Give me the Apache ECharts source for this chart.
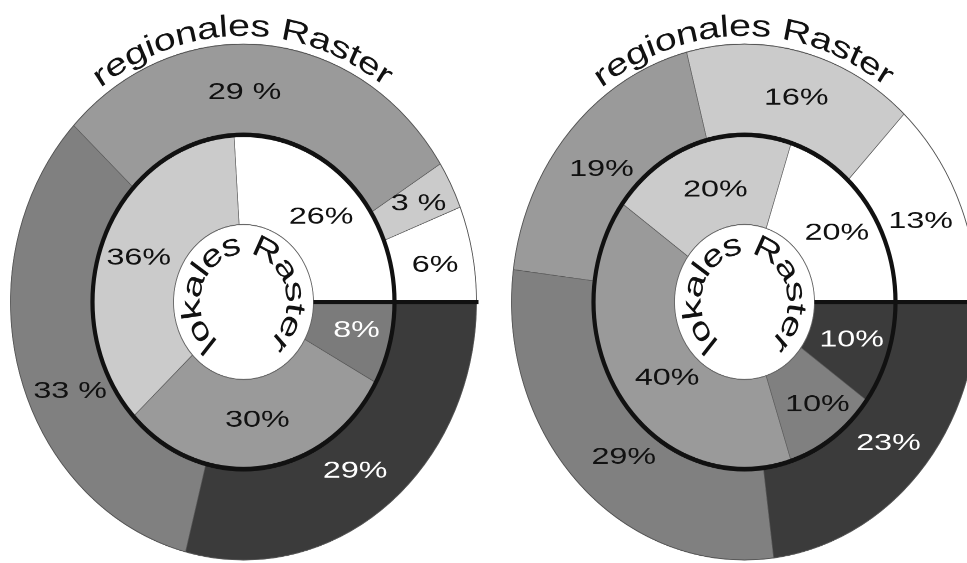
<!DOCTYPE html>
<html><head><meta charset="utf-8">
<script src="https://cdn.jsdelivr.net/npm/echarts@6/dist/echarts.min.js"></script>
<style>
html,body{margin:0;padding:0;background:#fff;overflow:hidden;}
#wrap{width:967px;height:563px;overflow:hidden;position:relative;background:#fff;}
#chart{width:967px;height:509px;transform:scaleY(1.107);transform-origin:0 0;}
</style></head><body>
<div id="wrap"><div id="chart"></div></div>
<script>
// ---------- data ----------
const leftInnerValues  = [26, 36, 30, 8];
const leftInnerLabels  = ['26%', '36%', '30%', '8%'];
const leftOuterValues  = [6, 3, 29, 33, 29];
const leftOuterLabels  = ['6%', '3 %', '29 %', '33 %', '29%'];
const rightInnerValues = [20, 20, 40, 10, 10];
const rightInnerLabels = ['20%', '20%', '40%', '10%', '10%'];
const rightOuterValues = [13, 16, 19, 29, 23];
const rightOuterLabels = ['13%', '16%', '19%', '29%', '23%'];
const outerTitle = 'regionales Raster';
const innerTitle = 'lokales Raster';

// ---------- styles ----------
const leftInnerColors  = ['#ffffff', '#cbcbcb', '#9a9a9a', '#7b7b7b'];
const leftInnerText    = ['#111', '#111', '#111', '#fff'];
const leftOuterColors  = ['#ffffff', '#cbcbcb', '#9a9a9a', '#808080', '#3b3b3b'];
const leftOuterText    = ['#111', '#111', '#111', '#111', '#fff'];
const rightInnerColors = ['#ffffff', '#cbcbcb', '#9a9a9a', '#808080', '#3b3b3b'];
const rightInnerText   = ['#111', '#111', '#111', '#111', '#fff'];
const rightOuterColors = ['#ffffff', '#cbcbcb', '#9a9a9a', '#808080', '#3b3b3b'];
const rightOuterText   = ['#111', '#111', '#111', '#111', '#fff'];
// small label nudges (px) from the slice middle, as in the original layout
const leftInnerNudge   = [[2, 4], [-2, 1], [0, -3], [6, -2]];
const leftOuterNudge   = [[3, 3], [4, -2], [-17, 2], [11, 30], [-6, 1]];
const rightInnerNudge  = [[3, 3], [5, 4], [12, 4], [8, 4], [2, 0]];
const rightOuterNudge  = [[0, 4], [4, 2], [1, 8], [15, 5], [0, 1]];

const K = 1.107;            // vertical stretch of the page (CSS)
const CY = 302 / K;
const R0 = 70, R1 = 151, R2 = 233;
const FONT = 'Liberation Sans';
const LABEL_SIZE = 21.5;
const LABEL_SX = 1.5;

function pieSeries(values, labels, colors, cx, r0, r1) {
  return {
    type: 'pie', center: [cx, CY], radius: [r0, r1],
    startAngle: 0, clockwise: false, silent: true, animation: false,
    avoidLabelOverlap: false, labelLine: { show: false },
    label: { show: false },
    emphasis: { disabled: true },
    itemStyle: { borderColor: '#5a5a5a', borderWidth: 0.6 },
    data: values.map((v, i) => ({
      value: v, name: labels[i] + '#' + i,
      itemStyle: { color: colors[i] }
    }))
  };
}

// slice labels: at the middle angle / middle radius of each slice (pie 'inside' rule)
function sliceLabels(values, labels, textColors, nudge, cx, r0, r1) {
  const total = values.reduce((a, b) => a + b, 0);
  const rm = (r0 + r1) / 2;
  let cum = 0;
  return values.map((v, i) => {
    const mid = (cum + v / 2) / total * Math.PI * 2;
    cum += v;
    return {
      type: 'text', silent: true, z: 100,
      x: cx + rm * Math.cos(mid) + nudge[i][0],
      y: CY - rm * Math.sin(mid) + nudge[i][1] / K,
      scaleX: LABEL_SX, scaleY: 1,
      style: { text: labels[i], fontSize: LABEL_SIZE, fontFamily: FONT, fill: textColors[i],
               align: 'center', verticalAlign: 'middle',
               textAlign: 'center', textVerticalAlign: 'middle' }
    };
  });
}

const mctx = document.createElement('canvas').getContext('2d');
function arcText(text, cx, cy, rc, a0, a1, fs, sx) {
  mctx.font = fs + 'px "' + FONT + '"';
  const chars = Array.from(text);
  const ws = chars.map(ch => mctx.measureText(ch).width);
  let cum = 0;
  const centers = ws.map(w => { const c = cum + w / 2; cum += w; return c; });
  const c0 = centers[0], cN = centers[centers.length - 1];
  const out = [];
  chars.forEach((ch, i) => {
    if (ch === ' ') return;
    const t = (centers[i] - c0) / (cN - c0);
    const rad = (a0 + (a1 - a0) * t) * Math.PI / 180;
    out.push({
      type: 'text', silent: true, z: 100,
      x: cx + rc * Math.cos(rad), y: cy - rc * Math.sin(rad),
      rotation: rad - Math.PI / 2, scaleX: sx, scaleY: 1,
      style: { text: ch, fontSize: fs, fontFamily: FONT, fill: '#111',
               align: 'center', verticalAlign: 'middle',
               textAlign: 'center', textVerticalAlign: 'middle' }
    });
  });
  return out;
}

function decor(cx) {
  return [
    { type: 'circle', silent: true, z: 90, shape: { cx: cx, cy: CY, r: R2 },
      style: { fill: 'none', stroke: '#555', lineWidth: 0.8 } },
    { type: 'circle', silent: true, z: 90, shape: { cx: cx, cy: CY, r: R0 },
      style: { fill: 'none', stroke: '#666', lineWidth: 0.8 } },
    { type: 'circle', silent: true, z: 95, shape: { cx: cx, cy: CY, r: R1 },
      style: { fill: 'none', stroke: '#111', lineWidth: 4.2 } },
    { type: 'line', silent: true, z: 95,
      shape: { x1: cx + R0, y1: CY, x2: cx + R2 + 2, y2: CY },
      style: { stroke: '#111', lineWidth: 3.6 } }
  ].concat(
    arcText(outerTitle, cx, CY, 248, 125, 55.5, 27.5, 1.43),
    arcText(innerTitle, cx, CY, 51, 229, -46, 28, 1.35)
  );
}

const LX = 243.5, RX = 744.5;
const chart = echarts.init(document.getElementById('chart'), null, { renderer: 'canvas', devicePixelRatio: 2 });
chart.setOption({
  animation: false,
  backgroundColor: '#ffffff',
  series: [
    pieSeries(leftInnerValues, leftInnerLabels, leftInnerColors, LX, R0, R1),
    pieSeries(leftOuterValues, leftOuterLabels, leftOuterColors, LX, R1, R2),
    pieSeries(rightInnerValues, rightInnerLabels, rightInnerColors, RX, R0, R1),
    pieSeries(rightOuterValues, rightOuterLabels, rightOuterColors, RX, R1, R2)
  ],
  graphic: { elements: decor(LX).concat(decor(RX),
    sliceLabels(leftInnerValues, leftInnerLabels, leftInnerText, leftInnerNudge, LX, R0, R1),
    sliceLabels(leftOuterValues, leftOuterLabels, leftOuterText, leftOuterNudge, LX, R1, R2),
    sliceLabels(rightInnerValues, rightInnerLabels, rightInnerText, rightInnerNudge, RX, R0, R1),
    sliceLabels(rightOuterValues, rightOuterLabels, rightOuterText, rightOuterNudge, RX, R1, R2)) }
});
</script>
</body></html>
